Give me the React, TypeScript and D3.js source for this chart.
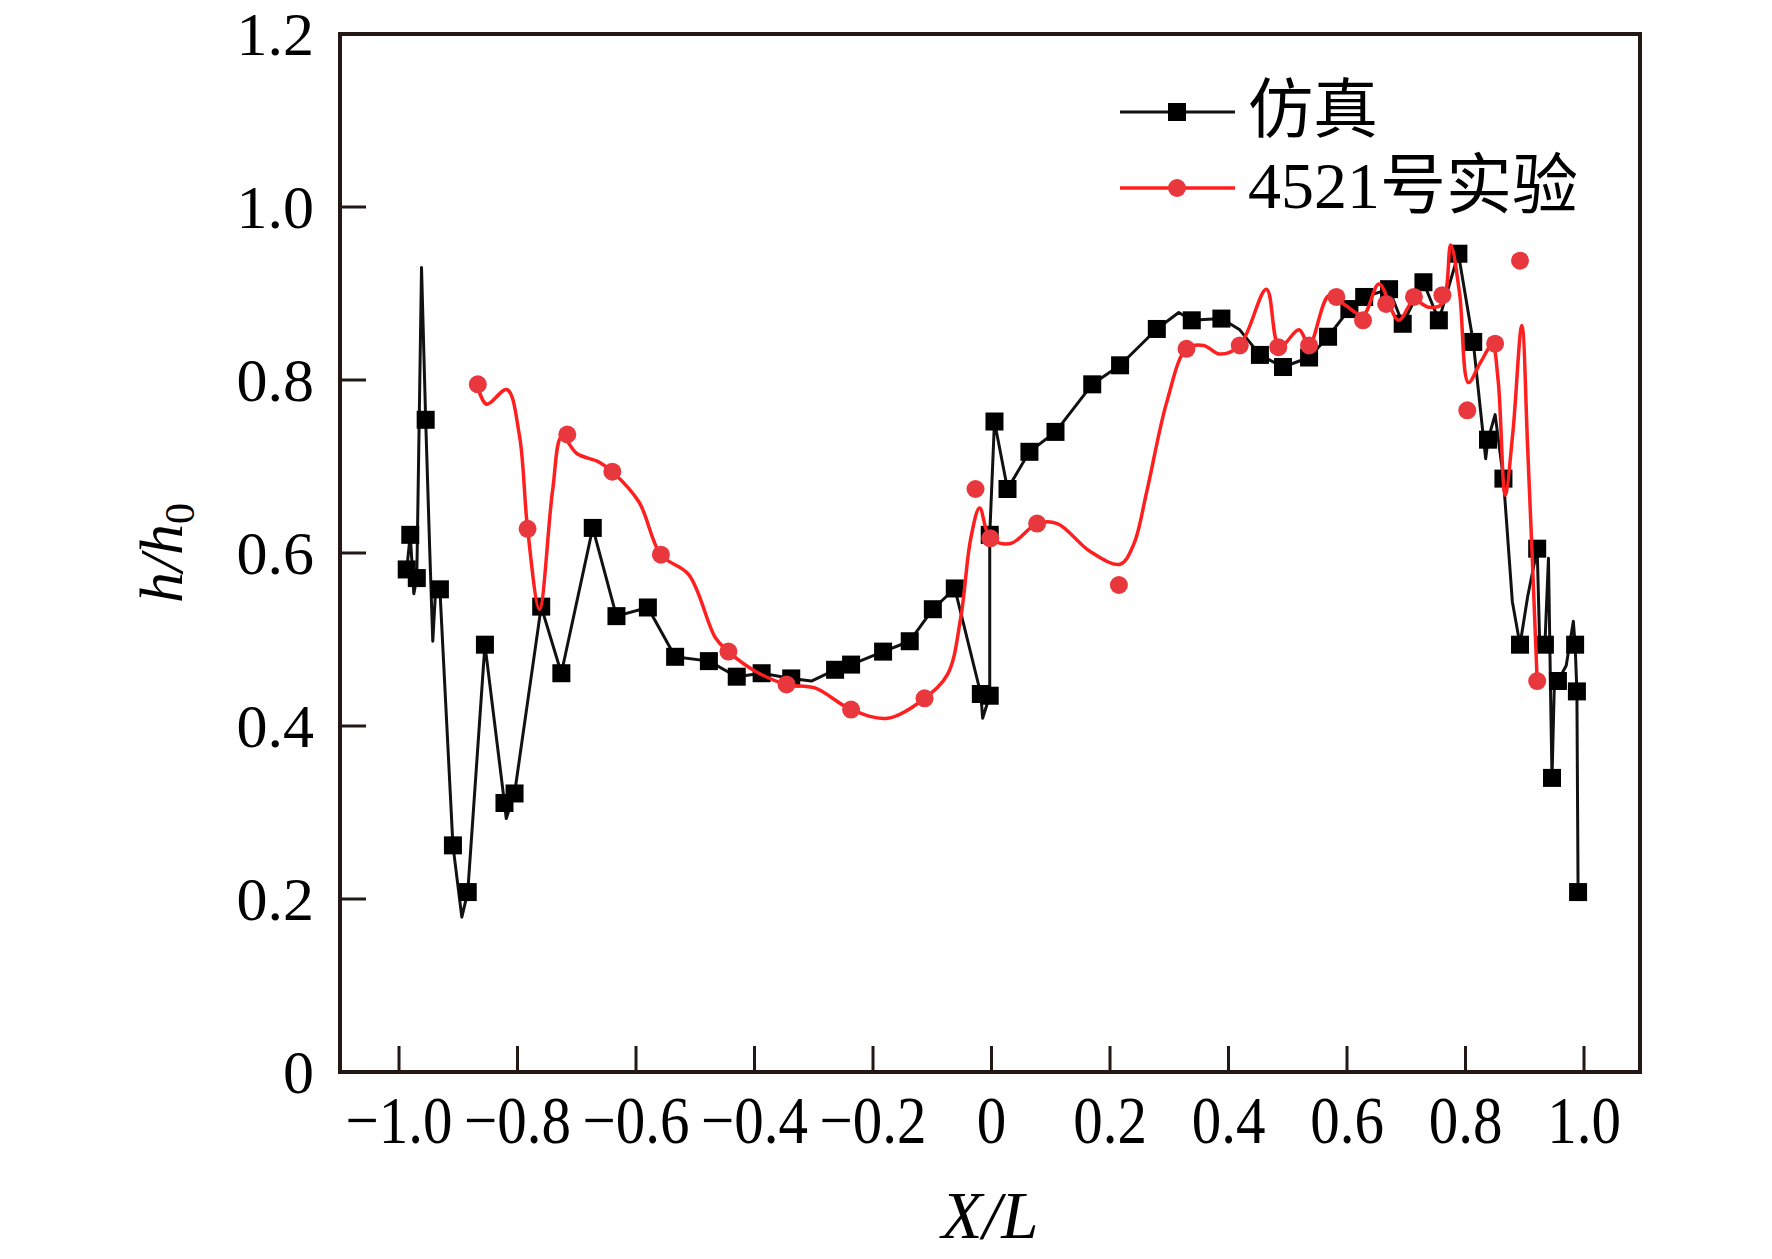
import React from "react";
import * as d3 from "d3";

// 仿真 (simulation) polyline vertices
const simLine: [number, number][] = [
  [-0.987, 0.581], [-0.981, 0.621], [-0.975, 0.553], [-0.970, 0.571],
  [-0.962, 0.93], [-0.955, 0.754], [-0.948, 0.6], [-0.943, 0.498],
  [-0.938, 0.56], [-0.931, 0.558], [-0.909, 0.262], [-0.894, 0.179],
  [-0.884, 0.208], [-0.855, 0.494], [-0.822, 0.311], [-0.819, 0.293],
  [-0.805, 0.322], [-0.760, 0.538], [-0.726, 0.461], [-0.673, 0.629],
  [-0.633, 0.527], [-0.580, 0.537], [-0.534, 0.480], [-0.477, 0.475],
  [-0.430, 0.457], [-0.388, 0.461], [-0.338, 0.455], [-0.304, 0.452],
  [-0.264, 0.465], [-0.237, 0.471], [-0.183, 0.486], [-0.138, 0.498],
  [-0.099, 0.535], [-0.062, 0.559], [-0.018, 0.437], [-0.015, 0.409],
  [-0.003, 0.435], [-0.003, 0.621], [0.005, 0.752], [0.027, 0.674],
  [0.064, 0.717], [0.108, 0.740], [0.170, 0.795], [0.217, 0.817],
  [0.279, 0.859], [0.316, 0.878], [0.338, 0.869], [0.388, 0.871],
  [0.419, 0.858], [0.453, 0.829], [0.492, 0.815], [0.536, 0.826],
  [0.568, 0.850], [0.604, 0.882], [0.629, 0.896], [0.671, 0.905],
  [0.694, 0.865], [0.729, 0.913], [0.755, 0.869], [0.788, 0.946],
  [0.813, 0.844], [0.834, 0.709], [0.838, 0.731], [0.850, 0.760],
  [0.864, 0.686], [0.879, 0.544], [0.892, 0.494], [0.905, 0.55],
  [0.921, 0.605], [0.925, 0.50], [0.934, 0.494], [0.940, 0.594],
  [0.944, 0.42], [0.946, 0.340], [0.950, 0.45], [0.956, 0.452],
  [0.970, 0.47], [0.982, 0.521], [0.985, 0.494], [0.988, 0.440],
  [0.990, 0.208],
];

// 仿真 square markers
const simMarkers: [number, number][] = [
  [-0.987, 0.581], [-0.981, 0.621], [-0.970, 0.571], [-0.955, 0.754],
  [-0.931, 0.558], [-0.909, 0.262], [-0.884, 0.208], [-0.855, 0.494],
  [-0.822, 0.311], [-0.805, 0.322], [-0.760, 0.538], [-0.726, 0.461],
  [-0.673, 0.629], [-0.633, 0.527], [-0.580, 0.537], [-0.534, 0.480],
  [-0.477, 0.475], [-0.430, 0.457], [-0.388, 0.461], [-0.338, 0.455],
  [-0.264, 0.465], [-0.237, 0.471], [-0.183, 0.486], [-0.138, 0.498],
  [-0.099, 0.535], [-0.062, 0.559], [-0.018, 0.437], [-0.003, 0.435],
  [-0.003, 0.621], [0.005, 0.752], [0.027, 0.674], [0.064, 0.717],
  [0.108, 0.740], [0.170, 0.795], [0.217, 0.817], [0.279, 0.859],
  [0.338, 0.869], [0.388, 0.871], [0.453, 0.829], [0.492, 0.815],
  [0.536, 0.826], [0.568, 0.850], [0.604, 0.882], [0.629, 0.896],
  [0.671, 0.905], [0.694, 0.865], [0.729, 0.913], [0.755, 0.869],
  [0.788, 0.946], [0.813, 0.844], [0.838, 0.731], [0.864, 0.686],
  [0.892, 0.494], [0.921, 0.605], [0.934, 0.494], [0.946, 0.340],
  [0.956, 0.452], [0.985, 0.494], [0.988, 0.440], [0.990, 0.208],
];

// 4521号实验 (experiment) smoothed curve
const expCurve: [number, number][] = [
  [-0.867, 0.792], [-0.852, 0.772], [-0.818, 0.789], [-0.797, 0.737],
  [-0.783, 0.628], [-0.763, 0.535], [-0.741, 0.671], [-0.725, 0.735],
  [-0.700, 0.715], [-0.662, 0.705], [-0.640, 0.694], [-0.595, 0.659],
  [-0.558, 0.598], [-0.511, 0.575], [-0.466, 0.502], [-0.444, 0.486],
  [-0.398, 0.463], [-0.346, 0.448], [-0.298, 0.444], [-0.237, 0.419],
  [-0.175, 0.409], [-0.113, 0.432], [-0.074, 0.460], [-0.052, 0.525],
  [-0.035, 0.617], [-0.020, 0.652], [-0.002, 0.617], [0.032, 0.611],
  [0.077, 0.634], [0.111, 0.634], [0.166, 0.602], [0.217, 0.587],
  [0.240, 0.610], [0.262, 0.671], [0.296, 0.775], [0.329, 0.836],
  [0.358, 0.840], [0.385, 0.830], [0.419, 0.840], [0.464, 0.905],
  [0.486, 0.838], [0.519, 0.858], [0.536, 0.840], [0.570, 0.898],
  [0.598, 0.886], [0.627, 0.875], [0.654, 0.911], [0.687, 0.869],
  [0.713, 0.892], [0.738, 0.884], [0.761, 0.888], [0.775, 0.956],
  [0.790, 0.90], [0.805, 0.797], [0.825, 0.82], [0.845, 0.840],
  [0.855, 0.80], [0.867, 0.667], [0.880, 0.74], [0.895, 0.863],
  [0.905, 0.72], [0.921, 0.452],
];

// 4521号实验 measured points
const expMarkers: [number, number][] = [
  [-0.867, 0.795], [-0.783, 0.628], [-0.716, 0.737], [-0.640, 0.694],
  [-0.558, 0.598], [-0.444, 0.486], [-0.346, 0.448], [-0.237, 0.419],
  [-0.113, 0.432], [-0.027, 0.674], [-0.002, 0.617], [0.077, 0.634],
  [0.215, 0.563], [0.329, 0.836], [0.419, 0.840], [0.484, 0.838],
  [0.536, 0.840], [0.582, 0.896], [0.627, 0.869], [0.666, 0.888],
  [0.713, 0.896], [0.761, 0.898], [0.803, 0.765], [0.850, 0.842],
  [0.892, 0.938], [0.921, 0.452],
];

const xTicks = [-1.0, -0.8, -0.6, -0.4, -0.2, 0, 0.2, 0.4, 0.6, 0.8, 1.0];
const xTickLabels = ["\u22121.0", "\u22120.8", "\u22120.6", "\u22120.4", "\u22120.2", "0", "0.2", "0.4", "0.6", "0.8", "1.0"];
const yTicks = [0, 0.2, 0.4, 0.6, 0.8, 1.0, 1.2];
const yTickLabels = ["0", "0.2", "0.4", "0.6", "0.8", "1.0", "1.2"];
const seriesNames = ["仿真", "4521号实验"];

const W = 1772;
const H = 1259;
const plot = { left: 340, right: 1640, top: 34, bottom: 1072 };
const axisColor = "#231815";
const serif = "'Liberation Serif', 'Times New Roman', 'Noto Sans CJK SC', serif";
const redLine = "#ff1f1f";
const redDot = "#e8383d";

export default function App() {
  const x = d3.scaleLinear().domain([-1.0996, 1.0945]).range([plot.left, plot.right]);
  const y = d3.scaleLinear().domain([0, 1.2]).range([plot.bottom, plot.top]);

  const simPath = d3
    .line<[number, number]>()
    .x((d) => x(d[0]))
    .y((d) => y(d[1]))(simLine);

  const expPath = d3
    .line<[number, number]>()
    .x((d) => x(d[0]))
    .y((d) => y(d[1]))
    .curve(d3.curveCatmullRom.alpha(0.5))(expCurve);

  const tickLen = 26;
  const sq = 18;
  const xLabelBase = 1143;

  return (
    <svg
      width={W}
      height={H}
      viewBox={`0 0 ${W} ${H}`}
      style={{ position: "absolute", left: 0, top: 0, background: "#fff" }}
    >
      <rect x={0} y={0} width={W} height={H} fill="#fff" />

      {/* series: simulation */}
      <path d={simPath ?? ""} fill="none" stroke="#111" strokeWidth={3} strokeLinejoin="round" />
      {simMarkers.map((d, i) => (
        <rect key={`s${i}`} x={x(d[0]) - sq / 2} y={y(d[1]) - sq / 2} width={sq} height={sq} fill="#000" />
      ))}

      {/* series: experiment */}
      <path d={expPath ?? ""} fill="none" stroke={redLine} strokeWidth={3.5} strokeLinejoin="round" />
      {expMarkers.map((d, i) => (
        <circle key={`e${i}`} cx={x(d[0])} cy={y(d[1])} r={9} fill={redDot} />
      ))}

      {/* frame */}
      <rect
        x={plot.left}
        y={plot.top}
        width={plot.right - plot.left}
        height={plot.bottom - plot.top}
        fill="none"
        stroke={axisColor}
        strokeWidth={4}
      />

      {/* x ticks (labels are slightly taller than wide in the source) */}
      {xTicks.map((t, i) => (
        <g key={`xt${i}`}>
          <line x1={x(t)} x2={x(t)} y1={plot.bottom} y2={plot.bottom - tickLen} stroke={axisColor} strokeWidth={3} />
          <text
            transform={`translate(${x(t)}, ${xLabelBase}) scale(1, 1.15)`}
            textAnchor="middle"
            fontFamily={serif}
            fontSize={59}
            fill="#000"
          >
            {xTickLabels[i]}
          </text>
        </g>
      ))}

      {/* y ticks */}
      {yTicks.map((t, i) => (
        <g key={`yt${i}`}>
          <line x1={plot.left} x2={plot.left + tickLen} y1={y(t)} y2={y(t)} stroke={axisColor} strokeWidth={3} />
          <text x={314} y={y(t)} dy="0.34em" textAnchor="end" fontFamily={serif} fontSize={62} fill="#000">
            {yTickLabels[i]}
          </text>
        </g>
      ))}

      {/* axis titles */}
      <text x={990} y={1238} textAnchor="middle" fontFamily={serif} fontSize={67} fontStyle="italic" fill="#000">
        X/L
      </text>
      <text
        transform={`translate(182, ${(plot.top + plot.bottom) / 2}) rotate(-90)`}
        textAnchor="middle"
        fontFamily={serif}
        fontSize={62}
        fontStyle="italic"
        fill="#000"
      >
        h/h
        <tspan fontSize={42} fontStyle="normal" dy={12}>0</tspan>
      </text>

      {/* legend */}
      <g>
        <line x1={1120} x2={1235} y1={112} y2={112} stroke="#111" strokeWidth={3} />
        <rect x={1177 - sq / 2} y={112 - sq / 2} width={sq} height={sq} fill="#000" />
        <text x={1248} y={132} fontFamily={serif} fontSize={65} fill="#000">
          {seriesNames[0]}
        </text>
        <line x1={1120} x2={1235} y1={188} y2={188} stroke={redLine} strokeWidth={3.5} />
        <circle cx={1177} cy={188} r={9} fill={redDot} />
        <text x={1248} y={208} fontFamily={serif} fontSize={66} fill="#000">
          {seriesNames[1]}
        </text>
      </g>
    </svg>
  );
}
